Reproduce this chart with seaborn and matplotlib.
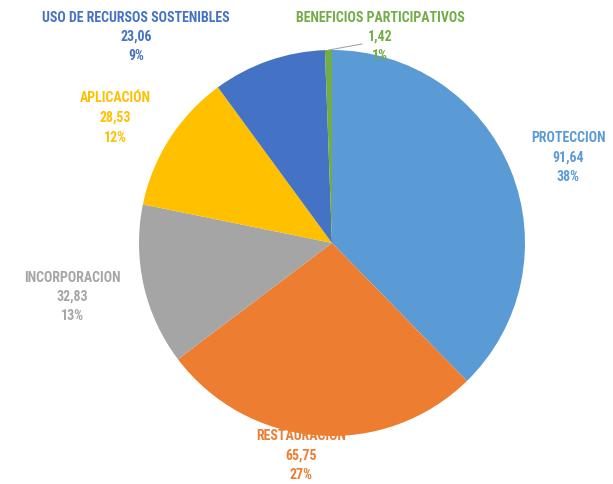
import matplotlib
matplotlib.use("Agg")
import matplotlib.pyplot as plt
import seaborn as sns
import numpy as np

# data
categories = ["PROTECCION", "RESTAURACION", "INCORPORACION", "APLICACIÓN",
              "USO DE RECURSOS SOSTENIBLES", "BENEFICIOS PARTICIPATIVOS"]
values = [91.64, 65.75, 32.83, 28.53, 23.06, 1.42]
value_labels = ["91,64", "65,75", "32,83", "28,53", "23,06", "1,42"]
pct_labels = ["38%", "27%", "13%", "12%", "9%", "1%"]
colors = ["#5B9BD5", "#ED7D31", "#A5A5A5", "#FFC000", "#4472C4", "#70AD47"]

# label anchor positions in pixels (layout)
label_pos = [(568, 158), (301, 456), (72, 297), (115, 118), (136, 37), (380, 37)]

sns.set_style("white")
plt.rcParams['font.family'] = ['Roboto Condensed', 'DejaVu Sans']

W, H = 613, 485
fig = plt.figure(figsize=(W / 100, H / 100), dpi=100)
cx, cy, r = 332, 244, 193
ax = fig.add_axes([(cx - r) / W, (H - cy - r) / H, 2 * r / W, 2 * r / H])

pal = sns.color_palette(colors)
wedges, _ = ax.pie(values, colors=pal, startangle=90, counterclock=False,
                   radius=1, wedgeprops=dict(linewidth=0))
ax.set_xlim(-1, 1)
ax.set_ylim(-1, 1)
ax.set_aspect("equal")
ax.axis("off")

for i, cat in enumerate(categories):
    x, y = label_pos[i]
    txt = f"{cat}\n{value_labels[i]}\n{pct_labels[i]}"
    fig.text(x / W, 1 - y / H, txt, ha="center", va="center", color=colors[i],
             fontsize=10, fontweight="bold", fontstretch="condensed",
             linespacing=1.5)

# leader line for small slice
w = wedges[-1]
mid = np.deg2rad((w.theta1 + w.theta2) / 2)
x0, y0 = np.cos(mid), np.sin(mid)
x1 = (362 - cx) / r
y1 = (cy - 45) / r
ax.plot([x0, x1], [y0, y1], color="#A6A6A6", lw=0.8, clip_on=False)

fig.savefig("out.png", dpi=100)
